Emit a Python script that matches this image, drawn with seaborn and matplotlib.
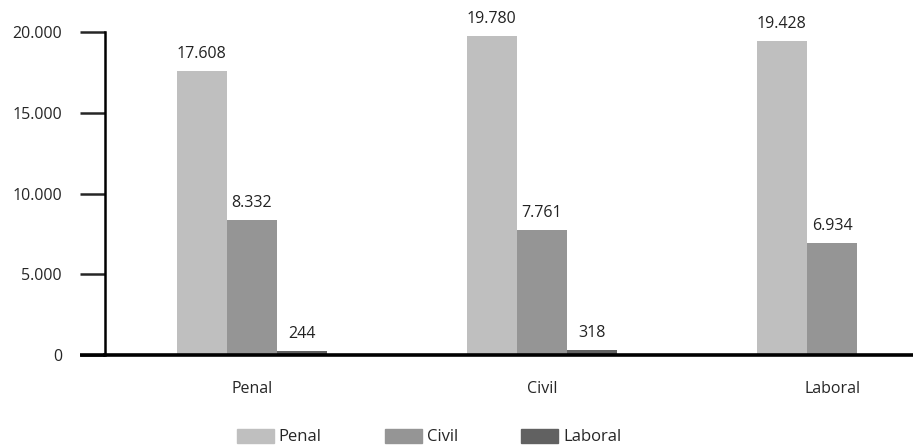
import pandas as pd
import matplotlib.pyplot as plt
import seaborn as sns
from matplotlib.ticker import FuncFormatter

# data
categories = ["Penal", "Civil", "Laboral"]
series = ["Penal", "Civil", "Laboral"]
penal_vals = [17608, 19780, 19428]
civil_vals = [8332, 7761, 6934]
laboral_vals = [244, 318, None]  # no laboral bar in the last group
yticks = [0, 5000, 10000, 15000, 20000]

colors = {"Penal": "#bfbfbf", "Civil": "#959595", "Laboral": "#616161"}

# long-form table for seaborn
rows = []
for cat, p, c, l in zip(categories, penal_vals, civil_vals, laboral_vals):
    rows.append((cat, "Penal", p))
    rows.append((cat, "Civil", c))
    if l is not None:
        rows.append((cat, "Laboral", l))
df = pd.DataFrame(rows, columns=["materia", "serie", "valor"])

sns.set_style("white")
plt.rcParams["font.family"] = ["Open Sans", "DejaVu Sans"]

fig = plt.figure(figsize=(9.13, 4.46), dpi=100)
ax = fig.add_axes([0.115, 0.204, 0.885, 0.724])

sns.barplot(data=df, x="materia", y="valor", hue="serie", order=categories,
            hue_order=series, palette=colors, width=0.52, saturation=1,
            errorbar=None, ax=ax, legend=True, linewidth=0, edgecolor="none")

# value labels with dot as thousands separator
for cont in ax.containers:
    labels = [f"{int(b.get_height()):,}".replace(",", ".") for b in cont]
    ax.bar_label(cont, labels=labels, padding=6.5, fontsize=11.5, color="#222222")

ax.set_ylim(0, 20000)
ax.set_xlim(-0.507, 2.279)
ax.set_yticks(yticks)
ax.yaxis.set_major_formatter(FuncFormatter(lambda v, p: f"{int(v):,}".replace(",", ".")))
ax.set_xlabel("")
ax.set_ylabel("")

for s in ["top", "right"]:
    ax.spines[s].set_visible(False)
ax.spines["left"].set_linewidth(1.8)
ax.spines["bottom"].set_linewidth(2.6)
ax.spines["left"].set_color("black")
ax.spines["bottom"].set_color("black")

ax.tick_params(axis="y", length=18, width=1.8, pad=13, labelsize=11.5, left=True)
ax.tick_params(axis="x", length=0, pad=19, labelsize=11.5)

# x axis line runs on to the left of the y axis, as far as the ticks
ax.plot([-0.031, 0], [0, 0], transform=ax.get_yaxis_transform(), clip_on=False,
        color="black", lw=2.6, solid_capstyle="butt")

ax.get_legend().remove()
handles = [plt.Rectangle((0, 0), 1, 1, color=colors[s]) for s in series]
fig.legend(handles, series, loc="center", bbox_to_anchor=(0.47, 0.02), ncol=3,
           frameon=False, fontsize=12, handlelength=2.2, handleheight=0.9,
           handletextpad=0.3, columnspacing=3.8)

fig.savefig("out.png", dpi=100)
